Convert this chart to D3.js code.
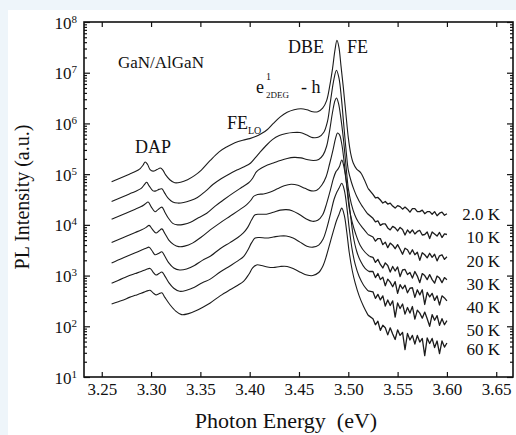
<!DOCTYPE html>
<html><head><meta charset="utf-8">
<script src="https://cdn.jsdelivr.net/npm/d3@7"></script>
<style>body{margin:0;background:#fff} svg{display:block} text{font-family:"Liberation Serif","Times New Roman",serif;fill:#111}</style>
</head><body><svg id="c" width="516" height="435"></svg>
<script>
// ---------- data ----------
const temperatures = ["2.0 K","10 K","20 K","30 K","40 K","50 K","60 K"];
const xTickValues = [3.25,3.30,3.35,3.40,3.45,3.50,3.55,3.60,3.65];
const yTickExponents = [1,2,3,4,5,6,7,8];
// photon energy (eV) of the noisy high-energy tails
const tailEnergy = [3.525,3.5275,3.53,3.5325,3.535,3.5375,3.54,3.5425,3.545,3.5475,3.55,3.5525,3.555,3.5575,3.56,3.5625,3.565,3.5675,3.57,3.5725,3.575,3.5775,3.58,3.5825,3.585,3.5875,3.59,3.5925,3.595,3.5975,3.6];
// [energy eV, log10 PL intensity]
const spec2K = [[3.260,4.85],[3.266,4.90],[3.272,4.95],[3.278,5.00],[3.284,5.05],[3.289,5.11],[3.292,5.18],[3.294,5.24],[3.2965,5.19],[3.299,5.09],[3.302,5.06],[3.306,5.09],[3.3095,5.12],[3.312,5.08],[3.315,4.98],[3.319,4.89],[3.324,4.83],[3.330,4.84],[3.337,4.89],[3.344,4.97],[3.351,5.08],[3.360,5.27],[3.369,5.44],[3.377,5.54],[3.385,5.62],[3.393,5.67],[3.400,5.70],[3.406,5.74],[3.412,5.80],[3.418,5.88],[3.424,6.00],[3.431,6.13],[3.438,6.22],[3.445,6.27],[3.452,6.29],[3.458,6.27],[3.464,6.23],[3.469,6.23],[3.474,6.30],[3.478,6.45],[3.481,6.72],[3.484,7.08],[3.4865,7.45],[3.4885,7.64],[3.4905,7.50],[3.4925,7.15],[3.495,6.70],[3.4975,6.20],[3.500,5.72],[3.5025,5.40],[3.505,5.22],[3.5085,5.10],[3.5125,5.03],[3.516,4.90],[3.520,4.72]];
const spec10K = [[3.260,4.46],[3.266,4.51],[3.272,4.56],[3.278,4.61],[3.284,4.66],[3.290,4.72],[3.2935,4.80],[3.2956,4.84],[3.298,4.77],[3.302,4.67],[3.305,4.67],[3.308,4.70],[3.311,4.71],[3.314,4.62],[3.318,4.51],[3.322,4.45],[3.327,4.43],[3.333,4.44],[3.340,4.48],[3.347,4.54],[3.355,4.66],[3.363,4.80],[3.371,4.91],[3.379,5.00],[3.387,5.08],[3.395,5.15],[3.401,5.22],[3.406,5.33],[3.410,5.42],[3.416,5.55],[3.423,5.68],[3.430,5.76],[3.437,5.80],[3.444,5.82],[3.451,5.82],[3.458,5.77],[3.464,5.72],[3.470,5.73],[3.475,5.82],[3.479,6.05],[3.482,6.45],[3.4855,6.88],[3.488,7.05],[3.4905,6.90],[3.493,6.50],[3.4955,5.95],[3.498,5.42],[3.500,5.08],[3.503,4.85],[3.506,4.68],[3.5086,4.56],[3.513,4.40],[3.519,4.23]];
const spec20K = [[3.260,4.11],[3.266,4.16],[3.272,4.21],[3.278,4.26],[3.284,4.31],[3.290,4.36],[3.294,4.41],[3.297,4.45],[3.300,4.36],[3.304,4.26],[3.307,4.30],[3.311,4.35],[3.314,4.25],[3.318,4.12],[3.322,4.03],[3.327,4.00],[3.333,4.01],[3.340,4.05],[3.348,4.14],[3.3565,4.23],[3.365,4.37],[3.374,4.50],[3.3835,4.63],[3.392,4.74],[3.399,4.83],[3.403,4.92],[3.407,5.05],[3.412,5.12],[3.418,5.18],[3.424,5.22],[3.431,5.27],[3.438,5.31],[3.445,5.33],[3.452,5.32],[3.458,5.29],[3.4646,5.27],[3.470,5.29],[3.4745,5.38],[3.478,5.55],[3.481,5.85],[3.484,6.22],[3.4865,6.45],[3.488,6.50],[3.490,6.40],[3.4925,6.10],[3.495,5.70],[3.4975,5.20],[3.500,4.72],[3.503,4.42],[3.5065,4.20],[3.510,4.06],[3.515,3.93],[3.520,3.81]];
const spec30K = [[3.260,3.65],[3.266,3.70],[3.272,3.75],[3.278,3.80],[3.284,3.85],[3.290,3.90],[3.295,3.95],[3.298,3.99],[3.301,3.92],[3.305,3.84],[3.308,3.88],[3.311,3.92],[3.314,3.83],[3.318,3.70],[3.323,3.61],[3.328,3.57],[3.334,3.58],[3.342,3.64],[3.351,3.76],[3.360,3.90],[3.370,4.04],[3.380,4.17],[3.390,4.30],[3.397,4.40],[3.401,4.48],[3.404,4.56],[3.408,4.60],[3.414,4.61],[3.421,4.65],[3.428,4.71],[3.435,4.77],[3.442,4.80],[3.449,4.78],[3.456,4.72],[3.4625,4.67],[3.468,4.68],[3.473,4.78],[3.4775,4.95],[3.481,5.20],[3.4845,5.48],[3.487,5.70],[3.489,5.81],[3.491,5.78],[3.4935,5.58],[3.496,5.20],[3.4985,4.75],[3.501,4.32],[3.504,4.05],[3.5075,3.82],[3.512,3.60],[3.517,3.46],[3.5215,3.38]];
const spec40K = [[3.260,3.25],[3.266,3.30],[3.272,3.35],[3.278,3.40],[3.284,3.45],[3.290,3.50],[3.295,3.54],[3.298,3.56],[3.301,3.49],[3.304,3.41],[3.308,3.44],[3.311,3.47],[3.314,3.38],[3.318,3.25],[3.323,3.15],[3.329,3.11],[3.336,3.13],[3.344,3.20],[3.352,3.30],[3.360,3.38],[3.370,3.53],[3.380,3.65],[3.388,3.75],[3.3936,3.84],[3.398,3.95],[3.402,4.10],[3.4055,4.20],[3.410,4.21],[3.417,4.21],[3.424,4.25],[3.431,4.29],[3.437,4.30],[3.443,4.28],[3.450,4.21],[3.457,4.12],[3.4635,4.07],[3.469,4.09],[3.474,4.20],[3.478,4.42],[3.482,4.70],[3.485,4.92],[3.4875,5.05],[3.4895,5.10],[3.491,5.15],[3.4934,5.28],[3.4955,5.15],[3.498,4.85],[3.500,4.55],[3.5025,4.15],[3.505,3.78],[3.5085,3.48],[3.5125,3.28],[3.517,3.14],[3.521,3.08]];
const spec50K = [[3.260,2.85],[3.266,2.90],[3.272,2.95],[3.278,3.00],[3.284,3.04],[3.290,3.08],[3.295,3.12],[3.299,3.14],[3.302,3.07],[3.305,3.01],[3.308,3.04],[3.311,3.07],[3.314,2.99],[3.318,2.86],[3.323,2.75],[3.329,2.69],[3.336,2.71],[3.344,2.77],[3.352,2.86],[3.360,2.93],[3.370,3.07],[3.380,3.19],[3.388,3.29],[3.394,3.38],[3.398,3.50],[3.402,3.65],[3.4055,3.74],[3.410,3.75],[3.417,3.74],[3.424,3.76],[3.431,3.78],[3.437,3.78],[3.444,3.74],[3.451,3.66],[3.458,3.58],[3.464,3.56],[3.470,3.60],[3.4745,3.72],[3.478,3.92],[3.482,4.22],[3.4855,4.50],[3.488,4.63],[3.4905,4.72],[3.4934,4.82],[3.496,4.68],[3.4985,4.35],[3.501,3.92],[3.504,3.50],[3.507,3.22],[3.511,2.98],[3.5155,2.81],[3.520,2.70]];
const spec60K = [[3.260,2.44],[3.266,2.48],[3.272,2.52],[3.278,2.57],[3.284,2.61],[3.290,2.65],[3.295,2.69],[3.299,2.71],[3.302,2.66],[3.305,2.62],[3.308,2.64],[3.311,2.66],[3.314,2.57],[3.319,2.43],[3.325,2.30],[3.331,2.23],[3.338,2.25],[3.346,2.31],[3.353,2.38],[3.360,2.46],[3.370,2.60],[3.380,2.72],[3.388,2.81],[3.394,2.89],[3.399,3.02],[3.403,3.15],[3.407,3.21],[3.412,3.20],[3.418,3.17],[3.424,3.16],[3.431,3.18],[3.438,3.18],[3.445,3.13],[3.452,3.06],[3.458,3.01],[3.464,3.00],[3.470,3.06],[3.4745,3.20],[3.478,3.40],[3.482,3.68],[3.4855,3.92],[3.488,4.08],[3.4905,4.20],[3.4934,4.33],[3.496,4.18],[3.4985,3.85],[3.501,3.45],[3.504,3.10],[3.507,2.85],[3.511,2.60],[3.5155,2.39],[3.520,2.22]];
// log10 intensity of the noisy tails at tailEnergy
const tail2K  = [4.60,4.53,4.54,4.49,4.43,4.46,4.41,4.43,4.37,4.33,4.38,4.36,4.31,4.35,4.31,4.25,4.32,4.32,4.26,4.26,4.29,4.22,4.26,4.26,4.21,4.26,4.18,4.23,4.25,4.19,4.22];
const tail10K = [4.13,4.06,4.08,3.99,4.02,4.02,3.94,3.90,3.97,3.94,3.88,3.95,3.91,3.80,3.90,3.84,3.90,3.82,3.87,3.89,3.80,3.81,3.86,3.73,3.86,3.82,3.78,3.85,3.75,3.82,3.81];
const tail20K = [3.76,3.68,3.73,3.73,3.61,3.66,3.55,3.64,3.60,3.53,3.61,3.52,3.42,3.54,3.51,3.42,3.51,3.41,3.46,3.30,3.45,3.41,3.35,3.44,3.36,3.42,3.29,3.39,3.41,3.32,3.37];
const tail30K = [3.36,3.26,3.32,3.22,3.15,3.25,3.20,3.07,3.18,3.09,3.17,2.98,3.11,3.12,3.02,3.06,2.95,3.08,2.99,2.86,3.04,3.00,2.92,3.02,2.92,2.85,2.99,2.95,2.86,2.96,2.92];
const tail40K = [3.08,2.96,3.04,2.92,2.97,2.80,2.93,2.87,2.78,2.88,2.65,2.82,2.74,2.81,2.66,2.75,2.76,2.57,2.72,2.62,2.72,2.43,2.67,2.58,2.65,2.51,2.60,2.42,2.60,2.56,2.50];
const tail50K = [2.68,2.55,2.63,2.52,2.60,2.40,2.52,2.41,2.50,2.18,2.46,2.35,2.44,2.24,2.37,2.26,2.39,2.14,2.32,2.26,2.16,2.28,2.15,2.00,2.23,2.12,2.21,2.02,2.15,2.03,2.11];
const tail60K = [2.15,2.03,2.10,1.92,2.02,1.97,1.83,1.97,1.85,1.74,1.93,1.82,1.88,1.54,1.86,1.73,1.82,1.65,1.82,1.69,1.76,1.42,1.77,1.66,1.76,1.58,1.71,1.46,1.71,1.59,1.67];
// right-side label anchor (log10 intensity at which each temperature label sits)
const labelLevels = [4.21,3.76,3.29,2.84,2.38,1.93,1.56];

// ---------- drawing ----------
const svg = d3.select("#c");
const W = 516, H = 435;
svg.append("rect").attr("width",W).attr("height",H).attr("fill","#eef5fa");
svg.append("rect").attr("x",8).attr("y",10).attr("width",W-8).attr("height",H-10).attr("fill","#fff");

const L = 84, R = 513, T = 22, B = 377;
const x = d3.scaleLinear().domain([3.232, 3.667]).range([L, R]);
const y = d3.scaleLog().domain([10, 1e8]).range([B, T]);

const mains = [spec2K,spec10K,spec20K,spec30K,spec40K,spec50K,spec60K];
const tails = [tail2K,tail10K,tail20K,tail30K,tail40K,tail50K,tail60K];
const tailSeries = mains.map((m,i)=> [m[m.length-1]].concat(tailEnergy.map((e,j)=>[e, tails[i][j]])));

const smooth = d3.line().x(d=>x(d[0])).y(d=>y(Math.pow(10,d[1]))).curve(d3.curveCatmullRom.alpha(0.5));
const jagged = d3.line().x(d=>x(d[0])).y(d=>y(Math.pow(10,d[1])));
const gl = svg.append("g").attr("fill","none").attr("stroke","#1c1c1c").attr("stroke-linejoin","round");
gl.selectAll("path.m").data(mains).join("path").attr("class","m").attr("d", smooth).attr("stroke-width",1.1);
gl.selectAll("path.t").data(tailSeries).join("path").attr("class","t").attr("d", jagged).attr("stroke-width",1.3);

// axes
const minorVals = [];
for (let e=1;e<8;e++) for (let k=2;k<=9;k++) minorVals.push(k*Math.pow(10,e));
const majorVals = yTickExponents.map(e=>Math.pow(10,e));

const gx = svg.append("g").attr("transform",`translate(0,${B})`)
  .call(d3.axisBottom(x).tickValues(xTickValues).tickSize(-5).tickPadding(6).tickFormat(d3.format(".2f")));
gx.select(".domain").remove();
gx.selectAll("text").attr("font-size","17px").attr("fill","#111");
const gxt = svg.append("g").attr("transform",`translate(0,${T})`)
  .call(d3.axisTop(x).tickValues(xTickValues).tickSize(-5).tickFormat(""));
gxt.select(".domain").remove();

const gy = svg.append("g").attr("transform",`translate(${L},0)`)
  .call(d3.axisLeft(y).tickValues(majorVals).tickSize(-6).tickPadding(7).tickFormat(""));
gy.select(".domain").remove();
gy.selectAll(".tick text").each(function(d){
  const t = d3.select(this).attr("font-size","17px").attr("fill","#111").attr("dy","0.36em");
  t.append("tspan").text("10");
  t.append("tspan").attr("dy","-0.55em").attr("font-size","11px").text(Math.round(Math.log10(d)));
});
const gym = svg.append("g").attr("transform",`translate(${L},0)`)
  .call(d3.axisLeft(y).tickValues(minorVals).tickSize(-3).tickFormat(""));
gym.select(".domain").remove();
const gyr = svg.append("g").attr("transform",`translate(${R},0)`)
  .call(d3.axisRight(y).tickValues(majorVals).tickSize(-6).tickFormat(""));
gyr.select(".domain").remove();
const gyrm = svg.append("g").attr("transform",`translate(${R},0)`)
  .call(d3.axisRight(y).tickValues(minorVals).tickSize(-3).tickFormat(""));
gyrm.select(".domain").remove();
svg.selectAll(".tick line").attr("stroke","#111").attr("stroke-width",1.2);

svg.append("rect").attr("x",L).attr("y",T).attr("width",R-L).attr("height",B-T)
  .attr("fill","none").attr("stroke","#111").attr("stroke-width",1.6);

// axis titles
svg.append("text").attr("x",286).attr("y",428).attr("text-anchor","middle").attr("font-size","22px")
  .attr("xml:space","preserve").text("Photon Energy  (eV)");
svg.append("text").attr("transform","translate(29,197) rotate(-90)").attr("text-anchor","middle")
  .attr("font-size","20px").text("PL Intensity (a.u.)");

// temperature labels
svg.append("g").selectAll("text").data(temperatures).join("text")
  .attr("x",500).attr("y",(d,i)=>y(Math.pow(10,labelLevels[i]))+6)
  .attr("text-anchor","end").attr("font-size","17px").text(d=>d);

// annotations
svg.append("text").attr("x",118).attr("y",68).attr("font-size","17px").text("GaN/AlGaN");
svg.append("text").attr("x",135).attr("y",153).attr("font-size","18px").text("DAP");
const fe = svg.append("text").attr("x",227).attr("y",129).attr("font-size","18px");
fe.append("tspan").text("FE");
fe.append("tspan").attr("dy","5").attr("font-size","10px").text("LO");
svg.append("text").attr("x",256).attr("y",93).attr("font-size","18px").text("e");
svg.append("text").attr("x",266).attr("y",80).attr("font-size","10px").text("1");
svg.append("text").attr("x",266).attr("y",98).attr("font-size","9px").text("2DEG");
svg.append("text").attr("x",301).attr("y",93).attr("font-size","18px").text("- h");
svg.append("text").attr("x",288).attr("y",53).attr("font-size","18px").text("DBE");
svg.append("text").attr("x",347).attr("y",53).attr("font-size","18px").text("FE");
</script></body></html>
